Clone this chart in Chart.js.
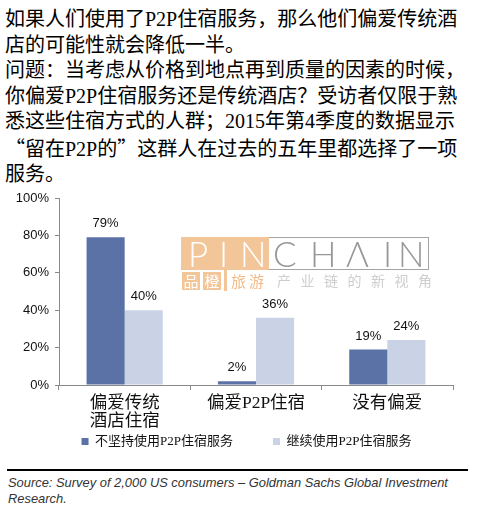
<!DOCTYPE html>
<html>
<head>
<meta charset="utf-8">
<script src="https://cdn.jsdelivr.net/npm/chart.js@4/dist/chart.umd.min.js"></script>
<style>
  html, body { margin: 0; padding: 0; background: #fff; }
  body { width: 480px; height: 514px; position: relative; overflow: hidden; }
  #title {
    position: absolute; left: 5px; top: 7px; width: 475px;
    font-family: 'Liberation Serif', 'Noto Sans CJK SC', sans-serif;
    font-size: 20px; line-height: 25.5px; color: #000; white-space: nowrap;
  }
  .cjk { font-family: 'Noto Sans CJK SC', sans-serif; }
  #chartBox { position: absolute; left: 0; top: 180px; width: 480px; height: 313px; }
  #rule { position: absolute; left: 7px; top: 469px; width: 461px; height: 2px; background: #000; }
  #source {
    position: absolute; left: 8px; top: 475px; width: 470px;
    font-family: 'Liberation Sans', Arial, sans-serif; font-style: italic;
    font-size: 12.9px; line-height: 15.5px; color: #333; background: #fff; height: 39px;
  }
  #wm { position: absolute; left: 0; top: 0; width: 480px; height: 514px; pointer-events: none; opacity: 0.9; }
  #wmBox { position: absolute; left: 181px; top: 237px; width: 246px; height: 31px; border: 1px solid #9a9a9a; background: rgba(255,255,255,0.55); }
  #wmPinBg { position: absolute; left: 181px; top: 237px; width: 88px; height: 33px; background: #F2C08F; }
  .wmL { position: absolute; top: 235px; font-family: 'Lato', 'Roboto', 'Liberation Sans', sans-serif; font-weight: 300; font-size: 35px; line-height: 36px; }
  .wmW { color: #fff; }
  .wmG { color: #8c8c8c; }
  .wmSq { position: absolute; top: 272px; width: 18px; height: 18px; background: #F2C08F; color: #fff;
    font-family: 'Noto Sans CJK SC', sans-serif; font-size: 15px; line-height: 18px; text-align: center; }
  #wmBar { position: absolute; left: 224px; top: 270px; width: 3px; height: 21px; background: #F2C08F; }
  .wmS { position: absolute; top: 271px; font-family: 'Noto Sans CJK SC', sans-serif; font-size: 15px; line-height: 19px; white-space: nowrap; }
</style>
</head>
<body>
<div id="title">如果人们使用了P2P住宿服务，那么他们偏爱传统酒<br>店的可能性就会降低一半。<br>问题：当考虑从价格到地点再到质量的因素的时候，<br>你偏爱P2P住宿服务还是传统酒店？受访者仅限于熟<br>悉这些住宿方式的人群；2015年第4季度的数据显示<br><span class="cjk">“</span>留在P2P的<span class="cjk">”</span>这群人在过去的五年里都选择了一项<br>服务。</div>
<div id="chartBox"><canvas id="c"></canvas></div>
<div id="wm">
  <div id="wmBox"></div>
  <div id="wmPinBg"></div>
  <span class="wmL wmW" style="left:188px">P</span>
  <span class="wmL wmW" style="left:219px">I</span>
  <span class="wmL wmW" style="left:240px">N</span>
  <span class="wmL wmG" style="left:273px">C</span>
  <span class="wmL wmG" style="left:310px">H</span>
  <span class="wmL wmG" style="left:346px">Λ</span>
  <span class="wmL wmG" style="left:383px">I</span>
  <span class="wmL wmG" style="left:398px">N</span>
  <div class="wmSq" style="left:182px">品</div>
  <div class="wmSq" style="left:203px">橙</div>
  <div id="wmBar"></div>
  <span class="wmS" style="left:231px; color:#F2B27A; letter-spacing:3px">旅游</span>
  <span class="wmS" style="left:277px; color:#c9c9c9; letter-spacing:9.5px; font-size:14px">产业链的新视角</span>
</div>
<div id="rule"></div>
<div id="source">Source: Survey of 2,000 US consumers – Goldman Sachs Global Investment<br>Research.</div>
<script>
const categories = [["偏爱传统", "酒店住宿"], "偏爱P2P住宿", "没有偏爱"];
const seriesNames = ["不坚持使用P2P住宿服务", "继续使用P2P住宿服务"];
const notStaying = [79, 2, 19];
const staying = [40, 36, 24];
const yTicks = [0, 20, 40, 60, 80, 100];

const valueLabels = {
  id: 'valueLabels',
  afterLayout(chart) {
    if (chart.legend) {
      chart.legend.left = 40;
      chart.legend.top -= 35;
      chart.legend.bottom -= 35;
    }
  },
  afterDatasetsDraw(chart) {
    const ctx = chart.ctx;
    ctx.save();
    ctx.font = '13px "Liberation Sans", Arial, sans-serif';
    ctx.fillStyle = '#111';
    ctx.textAlign = 'center';
    ctx.textBaseline = 'bottom';
    chart.data.datasets.forEach((ds, i) => {
      const meta = chart.getDatasetMeta(i);
      meta.data.forEach((el, j) => {
        ctx.fillText(ds.data[j] + '%', el.x, el.y - 7);
      });
    });
    ctx.restore();
  }
};

new Chart(document.getElementById('c'), {
  type: 'bar',
  data: {
    labels: categories,
    datasets: [
      { label: seriesNames[0], data: notStaying, backgroundColor: '#5A72A6', borderWidth: 0 },
      { label: seriesNames[1], data: staying, backgroundColor: '#C9D3E5', borderWidth: 0 }
    ]
  },
  options: {
    responsive: true,
    maintainAspectRatio: false,
    animation: false,
    devicePixelRatio: 1,
    layout: { padding: { top: 18, left: 0, right: 27, bottom: 0 } },
    plugins: {
      tooltip: { enabled: false },
      legend: {
        position: 'bottom',
        labels: {
          boxWidth: 7, boxHeight: 7, padding: 40,
          color: '#111',
          font: { family: "'Liberation Serif', 'Noto Sans CJK SC'", size: 13 }
        }
      }
    },
    datasets: { bar: { categoryPercentage: 0.58, barPercentage: 1 } },
    scales: {
      x: {
        grid: { display: true, drawOnChartArea: false, offset: true, tickLength: 5, color: '#8a8a8a' },
        border: { color: '#8a8a8a', width: 1 },
        ticks: {
          color: '#111', padding: 5, maxRotation: 0, autoSkip: false,
          font: { family: "'Liberation Serif', 'Noto Sans CJK SC'", size: 17.5, lineHeight: 1.0 }
        },
        afterFit(scale) { scale.height = 45; }
      },
      y: {
        min: 0, max: 100,
        afterBuildTicks(scale) { scale.ticks = yTicks.map(v => ({ value: v })); },
        grid: { display: true, drawOnChartArea: false, tickLength: 4, color: '#8a8a8a' },
        border: { color: '#8a8a8a', width: 1 },
        ticks: {
          color: '#111', padding: 6,
          font: { family: "'Liberation Sans', Arial", size: 13 },
          callback: v => v + '%'
        },
        afterFit(scale) { scale.width = 59; }
      }
    }
  },
  plugins: [valueLabels]
});
</script>
</body>
</html>
